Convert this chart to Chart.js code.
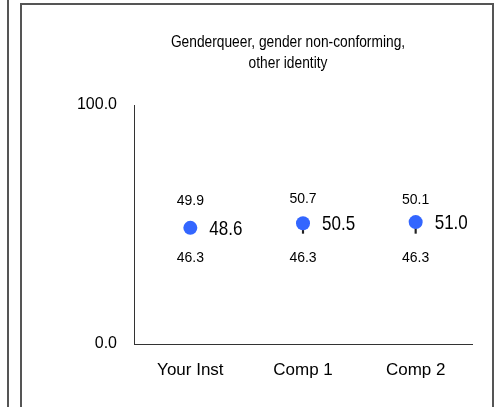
<!DOCTYPE html>
<html>
<head>
<meta charset="utf-8">
<script src="https://cdn.jsdelivr.net/npm/chart.js@4/dist/chart.umd.min.js"></script>
<style>
  body { margin: 0; background: #fff; }
  #wrap { position: relative; width: 499px; height: 407px; overflow: hidden; }
  #leftPanel { position: absolute; left: 7px; top: -2px; width: 0; height: 420px; border-left: 2px solid #555; }
  #box { position: absolute; left: 20px; top: 3px; width: 474px; height: 420px; border: 2px solid #555; box-sizing: border-box; }
  #meanChart { position: absolute; left: 0; top: 0; }
</style>
</head>
<body>
<div id="wrap">
  <div id="leftPanel"></div>
  <div id="box"></div>
  <canvas id="meanChart" width="499" height="407"></canvas>
</div>
<script>
var categories = ['Your Inst', 'Comp 1', 'Comp 2'];
var means = [48.6, 50.5, 51.0];
var upper = [49.9, 50.7, 50.1];
var lower = [46.3, 46.3, 46.3];
var titleLines = ['Genderqueer, gender non-conforming,', 'other identity'];
var yTicks = [0, 100];

var font = '"Liberation Sans", Arial, sans-serif';
var squeeze = 0.81; // the original uses a narrow face

// whisker: from the mean to the range values
var whisker = means.map(function (m, i) {
  return [Math.min(lower[i], upper[i], m), Math.max(lower[i], upper[i], m)];
});

function narrowText(ctx, txt, x, y, align) {
  ctx.save();
  ctx.translate(x, y);
  ctx.scale(squeeze, 1);
  ctx.textAlign = align;
  ctx.fillText(txt, 0, 0);
  ctx.restore();
}

var labelPlugin = {
  id: 'labelPlugin',
  afterDatasetsDraw: function (chart) {
    var ctx = chart.ctx;
    var xs = chart.scales.x, ys = chart.scales.y;
    ctx.save();
    ctx.fillStyle = '#000';
    ctx.textBaseline = 'middle';
    // title
    ctx.font = '17px ' + font;
    narrowText(ctx, titleLines[0], 288, 42, 'center');
    narrowText(ctx, titleLines[1], 288, 63, 'center');
    categories.forEach(function (c, i) {
      var x = xs.getPixelForValue(i);
      ctx.textAlign = 'center';
      ctx.font = '14px ' + font;
      ctx.fillText(upper[i].toFixed(1), x, ys.getPixelForValue(upper[i]) - 24);
      ctx.fillText(lower[i].toFixed(1), x, ys.getPixelForValue(lower[i]) + 25);
      ctx.font = '21px ' + font;
      narrowText(ctx, means[i].toFixed(1), x + 19, ys.getPixelForValue(means[i]) + 1, 'left');
    });
    ctx.restore();
  }
};

var ctx = document.getElementById('meanChart').getContext('2d');
var chart = new Chart(ctx, {
  data: {
    labels: categories,
    datasets: [{
      type: 'line',
      data: means,
      showLine: false,
      pointRadius: 7,
      pointHoverRadius: 7,
      pointBackgroundColor: '#3366ff',
      pointBorderColor: '#3366ff',
      pointBorderWidth: 0,
      order: 1
    }, {
      type: 'bar',
      data: whisker,
      backgroundColor: '#222',
      barThickness: 1.5,
      order: 2
    }]
  },
  options: {
    responsive: false,
    animation: false,
    events: [],
    layout: { padding: { left: 0, right: 27, top: 105, bottom: 27 } },
    plugins: { legend: { display: false }, tooltip: { enabled: false }, title: { display: false } },
    scales: {
      x: {
        offset: true,
        afterFit: function (scale) { scale.height = 36; },
        grid: { display: false, drawTicks: false },
        border: { display: true, color: '#333', width: 1 },
        ticks: { color: '#000', padding: 16, font: { family: font, size: 17 } }
      },
      y: {
        min: 0,
        max: 100,
        afterBuildTicks: function (scale) { scale.ticks = yTicks.map(function (v) { return { value: v }; }); },
        afterFit: function (scale) { scale.width = 134; },
        grid: { display: false, drawTicks: false },
        border: { display: true, color: '#333', width: 1 },
        ticks: {
          color: '#000', padding: 17, font: { family: font, size: 16 },
          callback: function (v) { return Number(v).toFixed(1); }
        }
      }
    }
  },
  plugins: [labelPlugin]
});
</script>
</body>
</html>
